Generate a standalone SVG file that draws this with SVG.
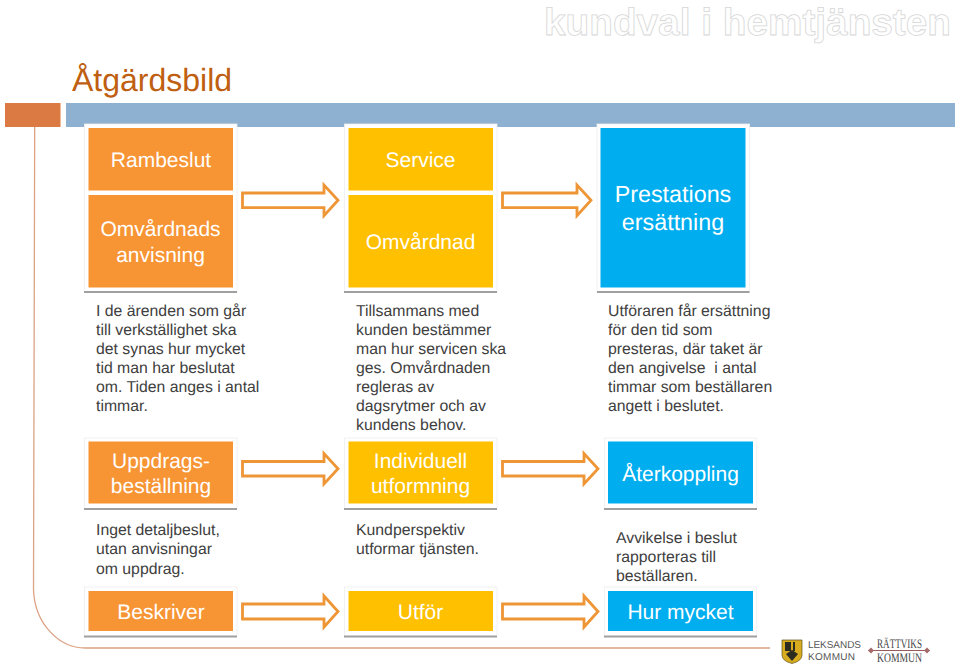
<svg xmlns="http://www.w3.org/2000/svg" width="959" height="667" viewBox="0 0 959 667">
<style>
text{font-family:"Liberation Sans",Arial,sans-serif;text-rendering:geometricPrecision}
.fr{fill:#fff;stroke:#eeeeee;stroke-width:0.800}
.sh{fill:#a0a0a0}
.o{fill:#f79433}.y{fill:#ffc000}.b{fill:#00aeef}
.t{fill:#fff;font-size:21px;text-anchor:middle}
.d{fill:#404040;font-size:15.8px}
.ar{fill:#fff;stroke:#ee9536;stroke-width:2.800}
</style>
<rect width="959" height="667" fill="#fff"/>
<text id="headline" x="544" y="35" font-size="38" font-weight="bold" fill="#fff" stroke="#d6d6d6" stroke-width="0.800" textLength="407" lengthAdjust="spacingAndGlyphs">kundval i hemtjänsten</text>
<text id="title" x="72" y="91" font-size="32" fill="#bf5f12">Åtgärdsbild</text>
<rect x="5" y="103" width="55.500" height="24" fill="#dc7a43"/>
<rect x="66" y="103" width="889" height="24" fill="#8fb1d1"/>
<path d="M34.700 127L33.500 590C35 625 60 648 85 648H770" fill="none" stroke="#dca283" stroke-width="1.300"/>
<g id="connectors">
<path class="ar" d="M242.500 193H324V185L338 200.300L324 215.600V207.600H242.500Z"/>
<path class="ar" d="M502.500 193H577V185L591 200.300L577 215.600V207.600H502.500Z"/>
<path class="ar" d="M242.500 461.500H324V453.500L338 468.700L324 484V476H242.500Z"/>
<path class="ar" d="M502.500 461.500H584V453.500L598 468.700L584 484V476H502.500Z"/>
<path class="ar" d="M242.500 604H324V596L338 611.500L324 627V619H242.500Z"/>
<path class="ar" d="M502.500 604H584V596L598 611.500L584 627V619H502.500Z"/>
</g>
<g id="n-rambeslut"><rect class="fr" x="84.500" y="124" width="152.500" height="168"/><rect class="sh" x="84" y="291" width="153" height="2"/><rect class="o" x="88.500" y="128" width="144.500" height="62.500"/><rect class="o" x="88.500" y="195" width="144.500" height="92.500"/><text class="t" x="161" y="167">Rambeslut</text><text class="t" x="160.500" y="236">Omvårdnads</text><text class="t" x="160.500" y="262">anvisning</text></g>
<g id="n-service"><rect class="fr" x="344.500" y="124" width="152.500" height="168"/><rect class="sh" x="344" y="291" width="153" height="2"/><rect class="y" x="348.500" y="128" width="144.500" height="62.500"/><rect class="y" x="348.500" y="195" width="144.500" height="92.500"/><text class="t" x="420.500" y="167">Service</text><text class="t" x="420.500" y="249">Omvårdnad</text></g>
<g id="n-prestations"><rect class="fr" x="597" y="124" width="152.500" height="168"/><rect class="sh" x="597" y="291" width="152.500" height="2"/><rect class="b" x="600.500" y="128" width="145" height="159.500"/><text class="t" x="673" y="202" style="font-size:23.300px">Prestations</text><text class="t" x="673" y="230" style="font-size:23.300px">ersättning</text></g>
<g id="d-1"><text class="d" x="96" y="316">I de ärenden som går</text><text class="d" x="96" y="335">till verkställighet ska</text><text class="d" x="96" y="354">det synas hur mycket</text><text class="d" x="96" y="373">tid man har beslutat</text><text class="d" x="96" y="392">om. Tiden anges i antal</text><text class="d" x="96" y="411">timmar.</text></g>
<g id="d-2"><text class="d" x="356" y="316">Tillsammans med</text><text class="d" x="356" y="335">kunden bestämmer</text><text class="d" x="356" y="354">man hur servicen ska</text><text class="d" x="356" y="373">ges. Omvårdnaden</text><text class="d" x="356" y="392">regleras av</text><text class="d" x="356" y="411">dagsrytmer och av</text><text class="d" x="356" y="430">kundens behov.</text></g>
<g id="d-3"><text class="d" x="608" y="316">Utföraren får ersättning</text><text class="d" x="608" y="335">för den tid som</text><text class="d" x="608" y="354">presteras, där taket är</text><text class="d" x="608" y="373" xml:space="preserve">den angivelse  i antal</text><text class="d" x="608" y="392">timmar som beställaren</text><text class="d" x="608" y="411">angett i beslutet.</text></g>
<g id="n-uppdrag"><rect class="fr" x="84.500" y="438" width="152.500" height="71"/><rect class="sh" x="84" y="508" width="153" height="2"/><rect class="o" x="88.500" y="441.500" width="144.500" height="62"/><text class="t" x="161" y="468">Uppdrags-</text><text class="t" x="161" y="493">beställning</text></g>
<g id="n-individuell"><rect class="fr" x="344.500" y="438" width="152.500" height="71"/><rect class="sh" x="344" y="508" width="153" height="2"/><rect class="y" x="348.500" y="441.500" width="144.500" height="62"/><text class="t" x="420.500" y="468">Individuell</text><text class="t" x="420.500" y="493">utformning</text></g>
<g id="n-aterkoppling"><rect class="fr" x="604.300" y="438" width="152.500" height="71"/><rect class="sh" x="604" y="508" width="153" height="2"/><rect class="b" x="608" y="441.500" width="145" height="62"/><text class="t" x="680.500" y="481">Återkoppling</text></g>
<g id="d-4"><text class="d" x="96" y="535">Inget detaljbeslut,</text><text class="d" x="96" y="554">utan anvisningar</text><text class="d" x="96" y="574">om uppdrag.</text></g>
<g id="d-5"><text class="d" x="356" y="535">Kundperspektiv</text><text class="d" x="356" y="554">utformar tjänsten.</text></g>
<g id="d-6"><text class="d" x="616" y="543">Avvikelse i beslut</text><text class="d" x="616" y="562">rapporteras till</text><text class="d" x="616" y="581">beställaren.</text></g>
<g id="n-beskriver"><rect class="fr" x="84.500" y="587" width="152.500" height="49.500"/><rect class="sh" x="84" y="635.500" width="153" height="2"/><rect class="o" x="88.500" y="591" width="144.500" height="40"/><text class="t" x="161" y="619">Beskriver</text></g>
<g id="n-utfor"><rect class="fr" x="344.500" y="587" width="152.500" height="49.500"/><rect class="sh" x="344" y="635.500" width="153" height="2"/><rect class="y" x="348.500" y="591" width="144.500" height="40"/><text class="t" x="420.500" y="619">Utför</text></g>
<g id="n-hurmycket"><rect class="fr" x="604.300" y="587" width="152.500" height="49.500"/><rect class="sh" x="604" y="635.500" width="153" height="2"/><rect class="b" x="608" y="591" width="145" height="40"/><text class="t" x="680.500" y="619">Hur mycket</text></g>
<g id="logo-leksands"><path d="M782 640H802V655Q802 661 792 663.500Q782 661 782 655Z" fill="#d9ab1f" stroke="#5a5020" stroke-width="0.700"/><path d="M785 642H791V651H785ZM793 642H795V651H793ZM786 654L792 650L798 654L792 661Z" fill="#2b2b20"/><text x="808" y="648" font-size="10" fill="#555" textLength="53">LEKSANDS</text><text x="808" y="659.500" font-size="10" fill="#555" textLength="47">KOMMUN</text></g>
<g id="logo-rattviks"><path d="M868 650.500H930" stroke="#9a5a5a" stroke-width="1" fill="none"/><path d="M868 650.500l3-3 3 3-3 3ZM924 650.500l3-3 3 3-3 3Z" fill="#a56a6a"/><text x="877" y="648" font-size="13" fill="#444" style="font-family:'Liberation Serif',serif" textLength="45" lengthAdjust="spacingAndGlyphs">RÄTTVIKS</text><text x="877" y="662" font-size="13" fill="#444" style="font-family:'Liberation Serif',serif" textLength="45" lengthAdjust="spacingAndGlyphs">KOMMUN</text></g>
</svg>
